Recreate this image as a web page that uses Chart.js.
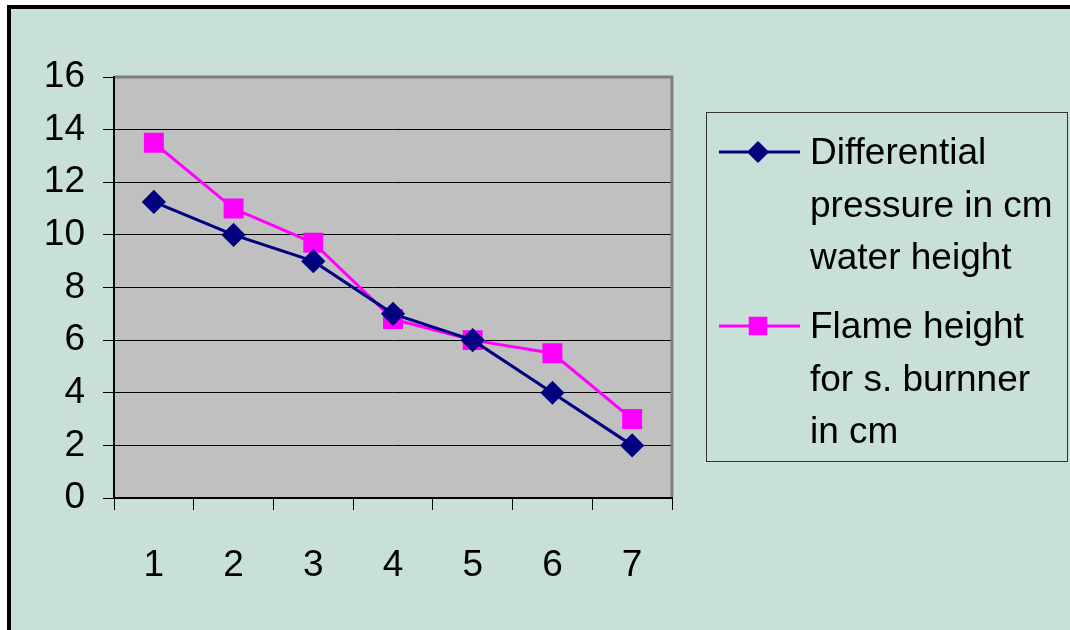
<!DOCTYPE html>
<html>
<head>
<meta charset="utf-8">
<script src="https://cdn.jsdelivr.net/npm/chart.js@4/dist/chart.umd.min.js"></script>
<style>
    html, body { margin: 0; padding: 0; background: #ffffff; overflow: hidden; }
    #frame {
        position: absolute; left: 7px; top: 5px;
        width: 1063px; height: 625px;
        border-top: 4px solid #000; border-left: 4px solid #000;
        background: rgb(200, 224, 216);
    }
    #chart { display: block; }
</style>
</head>
<body>
<div id="frame"><canvas id="chart" width="1059" height="621"></canvas></div>
<script>
// === Datos ===
const categories = ['1', '2', '3', '4', '5', '6', '7'];
const pressureValues = [11.25, 10, 9, 7, 6, 4, 2];
const flameValues = [13.5, 11, 9.7, 6.8, 6, 5.5, 3];
const pressureLegend = ['Differential', 'pressure in cm', 'water height'];
const flameLegend = ['Flame height', 'for s. burnner', 'in cm'];
const yTicks = [0, 2, 4, 6, 8, 10, 12, 14, 16];

const FONT = '"Liberation Sans", Arial, sans-serif';

// Fondo gris del área de trazado y borde gris arriba/derecha
const plotArea = {
    id: 'plotArea',
    beforeDraw(chart) {
        const a = chart.chartArea, ctx = chart.ctx;
        ctx.save();
        ctx.fillStyle = '#c0c0c0';
        ctx.fillRect(a.left, a.top, a.right - a.left, a.bottom - a.top);
        ctx.restore();
    },
    beforeDatasetsDraw(chart) {
        const a = chart.chartArea, ctx = chart.ctx;
        ctx.save();
        ctx.strokeStyle = '#808080';
        ctx.lineWidth = 3;
        ctx.beginPath();
        ctx.moveTo(a.left + 1, a.top);
        ctx.lineTo(a.right, a.top);
        ctx.lineTo(a.right, a.bottom - 1);
        ctx.stroke();
        ctx.restore();
    }
};

// Leyenda con recuadro, texto en varias líneas
const legendBox = {
    id: 'legendBox',
    afterDraw(chart) {
        const ctx = chart.ctx;
        const lineH = 52.5;
        const tops = [143, 317];
        ctx.save();
        ctx.strokeStyle = '#333';
        ctx.lineWidth = 1;
        ctx.strokeRect(695.5, 103.5, 361, 349);
        chart.data.datasets.forEach((ds, i) => {
            const y = tops[i];
            ctx.strokeStyle = ds.borderColor;
            ctx.lineWidth = 3;
            ctx.beginPath();
            ctx.moveTo(708, y);
            ctx.lineTo(789, y);
            ctx.stroke();
            Chart.helpers.drawPoint(ctx, {
                pointStyle: ds.pointStyle,
                radius: ds.legendRadius,
                borderWidth: 1
            }, 747, y);
            ctx.fillStyle = ds.pointBackgroundColor;
            ctx.fill();
            ctx.fillStyle = '#000';
            ctx.font = '37px ' + FONT;
            ctx.textBaseline = 'middle';
            ctx.textAlign = 'left';
            ds.legendLines.forEach((t, k) => ctx.fillText(t, 799, y + 2 + k * lineH));
        });
        ctx.restore();
    }
};

new Chart(document.getElementById('chart'), {
    type: 'line',
    data: {
        labels: categories,
        datasets: [{
            label: pressureLegend.join(' '),
            legendLines: pressureLegend,
            legendRadius: 9,
            data: pressureValues,
            borderColor: '#000080',
            backgroundColor: '#000080',
            pointBackgroundColor: '#000080',
            pointBorderColor: '#000080',
            borderWidth: 3,
            pointStyle: 'rectRot',
            pointRadius: 10,
            tension: 0
        }, {
            label: flameLegend.join(' '),
            legendLines: flameLegend,
            legendRadius: 11,
            data: flameValues,
            borderColor: '#ff00ff',
            backgroundColor: '#ff00ff',
            pointBackgroundColor: '#ff00ff',
            pointBorderColor: '#ff00ff',
            borderWidth: 3,
            pointStyle: 'rect',
            pointRadius: 12,
            tension: 0
        }]
    },
    options: {
        responsive: false,
        animation: false,
        devicePixelRatio: 1,
        layout: { padding: { top: 68, right: 398, left: 0, bottom: 0 } },
        plugins: {
            legend: { display: false },
            tooltip: { enabled: false }
        },
        scales: {
            x: {
                offset: true,
                afterFit: function(scale) { scale.height = 132; },
                grid: {
                    offset: true,
                    drawOnChartArea: false,
                    drawTicks: true,
                    tickLength: 12,
                    tickColor: '#000',
                    color: '#000'
                },
                border: { display: true, color: '#000', width: 2 },
                ticks: {
                    color: '#000',
                    padding: 34,
                    maxRotation: 0,
                    font: { family: FONT, size: 37 }
                }
            },
            y: {
                min: 0,
                max: 16,
                afterFit: function(scale) { scale.width = 103; },
                afterBuildTicks: function(scale) {
                    scale.ticks = yTicks.map(v => ({ value: v }));
                },
                grid: {
                    color: '#000',
                    lineWidth: 1,
                    drawTicks: true,
                    tickLength: 11,
                    tickColor: '#000'
                },
                border: { display: true, color: '#000', width: 2 },
                ticks: {
                    color: '#000',
                    padding: 18,
                    font: { family: FONT, size: 37 }
                }
            }
        }
    },
    plugins: [plotArea, legendBox]
});
</script>
</body>
</html>
